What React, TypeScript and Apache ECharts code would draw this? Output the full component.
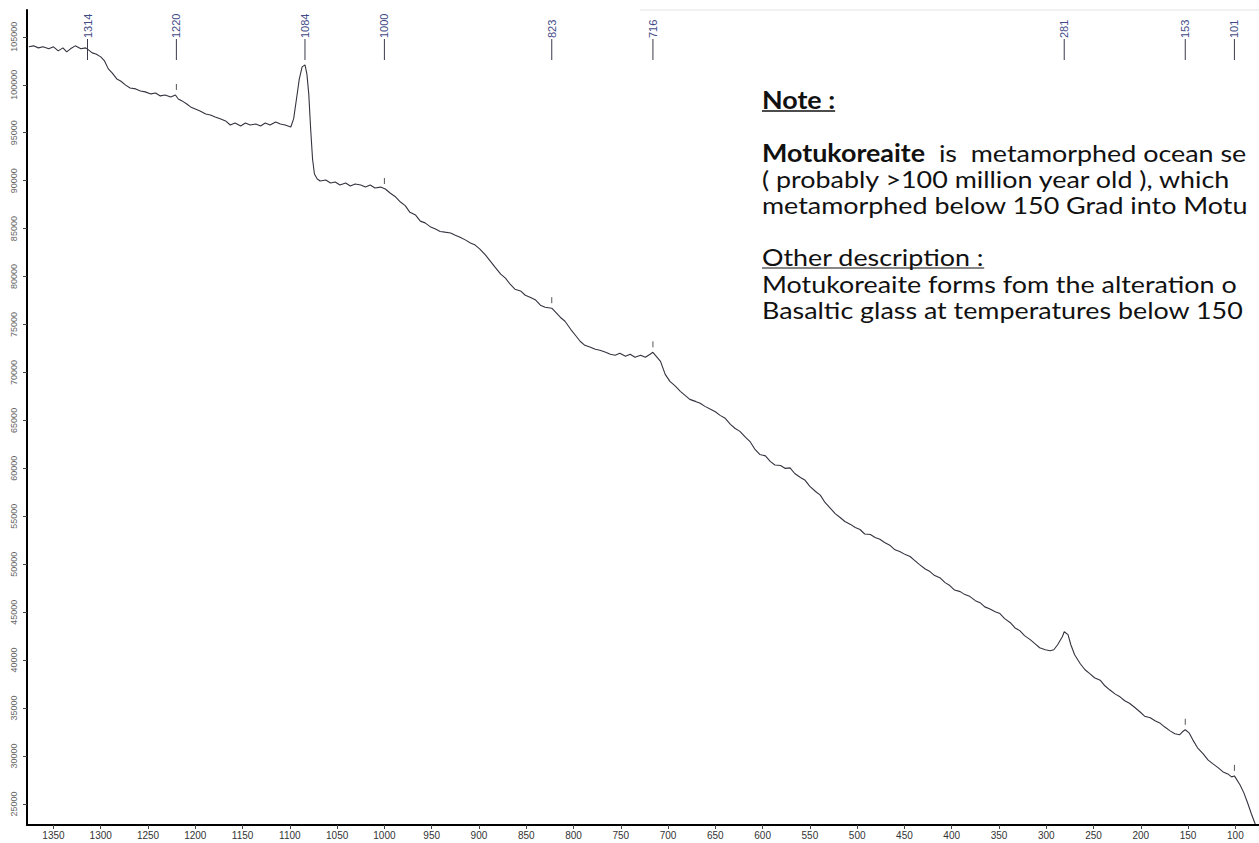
import React, { useEffect, useRef } from "react";
import * as echarts from "echarts";

// Raman spectrum of Motukoreaite: wavenumber (cm-1) and intensity (counts)
const wavenumbers = [
  1376, 1371, 1366, 1361, 1355, 1350, 1345, 1340, 1336, 1332, 1327, 1321, 1316, 1313, 1309, 1305,
  1300, 1296, 1292, 1288, 1283, 1279, 1274, 1269, 1263, 1258, 1253, 1247, 1242, 1237, 1232, 1226,
  1221, 1218, 1214, 1209, 1205, 1200, 1195, 1189, 1184, 1179, 1173, 1168, 1163, 1158, 1152, 1147,
  1142, 1136, 1131, 1126, 1121, 1115, 1110, 1105, 1099, 1096, 1093, 1090, 1087, 1084, 1082, 1080,
  1078, 1076, 1074, 1071, 1068, 1062, 1057, 1052, 1047, 1041, 1036, 1031, 1025, 1020, 1015, 1010,
  1004, 999, 994, 988, 983, 978, 973, 967, 962, 957, 951, 946, 941, 936, 930, 925,
  920, 914, 909, 904, 899, 893, 888, 883, 877, 872, 867, 862, 856, 851, 846, 840,
  835, 830, 823, 819, 814, 809, 803, 798, 793, 788, 782, 777, 772, 766, 761, 756,
  751, 745, 740, 735, 729, 724, 719, 716, 708, 703, 698, 692, 687, 682, 677, 671,
  666, 661, 655, 650, 645, 640, 634, 629, 624, 618, 613, 608, 603, 597, 592, 587,
  581, 576, 571, 566, 560, 555, 550, 544, 539, 534, 529, 523, 518, 513, 507, 502,
  497, 492, 486, 481, 476, 471, 465, 460, 455, 449, 444, 439, 434, 428, 423, 418,
  412, 407, 402, 397, 391, 386, 381, 375, 370, 365, 360, 354, 349, 344, 338, 333,
  328, 323, 317, 312, 307, 301, 296, 292, 288, 283, 281, 277, 274, 270, 264, 259,
  254, 249, 243, 238, 233, 227, 222, 217, 212, 206, 201, 196, 190, 185, 180, 175,
  169, 164, 159, 156, 153, 149, 145, 140, 134, 129, 124, 118, 113, 108, 104, 101,
  95, 91, 87, 83, 79,
];

const intensities = [
  103960, 104060, 103850, 103960, 103750, 103960, 103540, 103850, 103430, 103750, 104060, 103750, 103850, 103640, 103330, 103220,
  102910, 102490, 101660, 101240, 100610, 100400, 99990, 99670, 99570, 99360, 99260, 99050, 99150, 98840, 98940, 98730,
  98940, 98520, 98320, 98000, 97690, 97480, 97270, 96960, 96850, 96650, 96440, 96230, 95810, 96020, 95700, 96020,
  95810, 95910, 95700, 96020, 95810, 96120, 95910, 95810, 95600, 96440, 98520, 100610, 101870, 102080, 101140, 99050,
  95390, 92260, 90690, 90170, 89960, 90070, 89750, 89860, 89540, 89750, 89440, 89650, 89540, 89330, 89540, 89230,
  89330, 89130, 88710, 88290, 87770, 87400, 86700, 86410, 85780, 85600, 85160, 84950, 84700, 84630, 84550, 84320,
  84110, 83800, 83490, 83280, 82860, 82230, 81610, 80980, 80250, 79830, 79200, 78680, 78500, 78050, 77850, 77550,
  77010, 76800, 76700, 76280, 75760, 75340, 74500, 73880, 73250, 72830, 72620, 72410, 72310, 72100, 71890, 71790,
  72000, 71680, 71890, 71580, 71790, 71580, 71890, 72100, 71160, 69800, 69070, 68550, 68030, 67610, 67190, 66980,
  66780, 66460, 66150, 65900, 65520, 65250, 64580, 64150, 63850, 63220, 62750, 61970, 61450, 61300, 60720, 60350,
  60300, 59990, 60050, 59460, 59050, 58750, 58110, 57580, 57200, 56440, 55910, 55250, 54870, 54450, 54150, 53820,
  53620, 53150, 53090, 52780, 52600, 52260, 51940, 51500, 51320, 51000, 50800, 50380, 49960, 49500, 49230, 48810,
  48550, 48080, 47770, 47300, 47140, 46830, 46650, 46200, 45990, 45550, 45360, 45050, 44850, 44320, 43900, 43350,
  43070, 42550, 42130, 41710, 41290, 41080, 40980, 41080, 41600, 42440, 42960, 42650, 41600, 40560, 39620, 38990,
  38580, 38160, 37900, 37320, 36900, 36450, 36170, 35760, 35500, 35030, 34610, 34150, 33980, 33670, 33450, 33040,
  32620, 32310, 32210, 32520, 32730, 32410, 31680, 30850, 30220, 29590, 29200, 28760, 28340, 28130, 27820, 27920,
  26980, 26150, 25100, 23950, 22910,
];

const xTickValues = [
  1350, 1300, 1250, 1200, 1150, 1100, 1050, 1000, 950, 900, 850, 800, 750, 700, 650, 600, 550, 500, 450, 400,
  350, 300, 250, 200, 150, 100,
];
const yTickValues = [
  25000, 30000, 35000, 40000, 45000, 50000, 55000, 60000, 65000, 70000, 75000, 80000, 85000, 90000, 95000,
  100000, 105000,
];

// Labelled band positions along the top, and the bands that carry a small marker over the trace
const peakLabels = [1314, 1220, 1084, 1000, 823, 716, 281, 153, 101];
const peakMarkers = [1220, 1000, 823, 716, 153, 101];

const noteLines = [
  "{b|Motukoreaite}  is  metamorphed ocean se",
  "( probably >100 million year old ), which",
  "metamorphed below 150 Grad into Motu",
];
const otherLines = [
  "Motukoreaite forms fom the alteration o",
  "Basaltic glass at temperatures below 150",
];

const X_MIN = 75;
const X_MAX = 1378;
const Y_MIN = 22800;
const Y_MAX = 107800;

function nearestIntensity(w: number): number {
  let best = 0;
  for (let i = 1; i < wavenumbers.length; i++) {
    if (Math.abs(wavenumbers[i] - w) < Math.abs(wavenumbers[best] - w)) best = i;
  }
  return intensities[best];
}

function textWidth(text: string, font: string): number {
  const ctx = document.createElement("canvas").getContext("2d");
  if (!ctx) return text.length * 12;
  ctx.font = font;
  return ctx.measureText(text).width;
}

export default function App() {
  const ref = useRef<HTMLDivElement>(null);

  useEffect(() => {
    if (!ref.current) return;
    const chart = echarts.init(ref.current, undefined, { renderer: "svg" });

    const FONT = "Lato";
    const FS = 24;
    const SX = 1.12;
    const TX = 762;
    const noteY = 100;
    const lineH = 26;
    const line1Y = 153;
    const otherY = 257;

    const noteW = textWidth("Note :", `bold ${FS}px ${FONT}`) * SX;
    const otherW = textWidth("Other description :", `${FS}px ${FONT}`) * SX;

    const spectrum = wavenumbers.map((w, i) => [w, intensities[i]]);
    const labelData = peakLabels.map((w) => [w, Y_MAX]);
    const markerData = peakMarkers.map((w) => [w, nearestIntensity(w)]);

    const textStyleBase = { fontFamily: FONT, fontSize: FS, fill: "#111" };

    const graphic: any[] = [
      {
        type: "line",
        shape: { x1: 640, y1: 10, x2: 1259, y2: 10 },
        style: { stroke: "#e3e3e3", lineWidth: 1 },
        silent: true,
      },
      {
        type: "text",
        x: TX,
        y: noteY,
        scaleX: SX,
        style: { ...textStyleBase, fontWeight: "bold", text: "Note :", verticalAlign: "middle" },
      },
      {
        type: "line",
        shape: { x1: TX, y1: noteY + 11, x2: TX + noteW, y2: noteY + 11 },
        style: { stroke: "#111", lineWidth: 1.6 },
      },
      ...noteLines.map((t, i) => ({
        type: "text",
        x: TX,
        y: line1Y + i * lineH,
        scaleX: SX,
        style: {
          ...textStyleBase,
          text: t,
          verticalAlign: "middle",
          rich: { b: { fontFamily: FONT, fontSize: FS, fontWeight: "bold", fill: "#111" } },
        },
      })),
      {
        type: "text",
        x: TX,
        y: otherY,
        scaleX: SX,
        style: { ...textStyleBase, text: "Other description :", verticalAlign: "middle" },
      },
      {
        type: "line",
        shape: { x1: TX, y1: otherY + 11, x2: TX + otherW, y2: otherY + 11 },
        style: { stroke: "#111", lineWidth: 1.2 },
      },
      ...otherLines.map((t, i) => ({
        type: "text",
        x: TX,
        y: otherY + (i + 1) * lineH + 1,
        scaleX: SX,
        style: { ...textStyleBase, text: t, verticalAlign: "middle" },
      })),
    ];

    chart.setOption({
      animation: false,
      backgroundColor: "#ffffff",
      grid: { left: 27, right: 0, top: 10, bottom: 18, containLabel: false },
      xAxis: {
        type: "value",
        inverse: true,
        min: X_MIN,
        max: X_MAX,
        axisLine: { show: true, lineStyle: { color: "#000", width: 2 } },
        axisTick: { show: true, length: 4, customValues: xTickValues, lineStyle: { color: "#444" } },
        axisLabel: {
          customValues: xTickValues,
          formatter: (v: number) => String(v),
          fontSize: 10,
          color: "#333",
          margin: 5,
          fontFamily: "Liberation Sans",
        },
        splitLine: { show: false },
      },
      yAxis: {
        type: "value",
        min: Y_MIN,
        max: Y_MAX,
        axisLine: { show: true, lineStyle: { color: "#000", width: 2 } },
        axisTick: { show: true, length: 4, customValues: yTickValues, lineStyle: { color: "#444" } },
        axisLabel: {
          customValues: yTickValues,
          formatter: (v: number) => String(v),
          rotate: 90,
          fontSize: 9,
          color: "#666",
          margin: 9,
          fontFamily: "Liberation Sans",
        },
        splitLine: { show: false },
      },
      series: [
        {
          type: "line",
          data: spectrum,
          showSymbol: false,
          symbol: "none",
          silent: true,
          lineStyle: { color: "#33343f", width: 1.1 },
        },
        {
          type: "custom",
          data: labelData,
          silent: true,
          renderItem: (params: any, api: any) => {
            const x = api.coord([api.value(0), api.value(1)])[0];
            const top = params.coordSys.y;
            return {
              type: "group",
              children: [
                {
                  type: "line",
                  shape: { x1: x, y1: top + 29, x2: x, y2: top + 50 },
                  style: { stroke: "#3a3a4a", lineWidth: 1 },
                },
                {
                  type: "text",
                  x: x,
                  y: top + 28,
                  rotation: Math.PI / 2,
                  style: {
                    text: String(api.value(0)),
                    fontSize: 11,
                    fontFamily: "Liberation Sans",
                    fill: "#3f4a86",
                    align: "left",
                    verticalAlign: "middle",
                  },
                },
              ],
            };
          },
        },
        {
          type: "custom",
          data: markerData,
          silent: true,
          renderItem: (params: any, api: any) => {
            const p = api.coord([api.value(0), api.value(1)]);
            return {
              type: "line",
              shape: { x1: p[0], y1: p[1] - 11, x2: p[0], y2: p[1] - 5 },
              style: { stroke: "#555", lineWidth: 1 },
            };
          },
        },
      ],
      graphic,
    });

    return () => chart.dispose();
  }, []);

  return (
    <div
      ref={ref}
      style={{ position: "fixed", left: 0, top: 0, width: 1259, height: 843, background: "#fff" }}
    />
  );
}
